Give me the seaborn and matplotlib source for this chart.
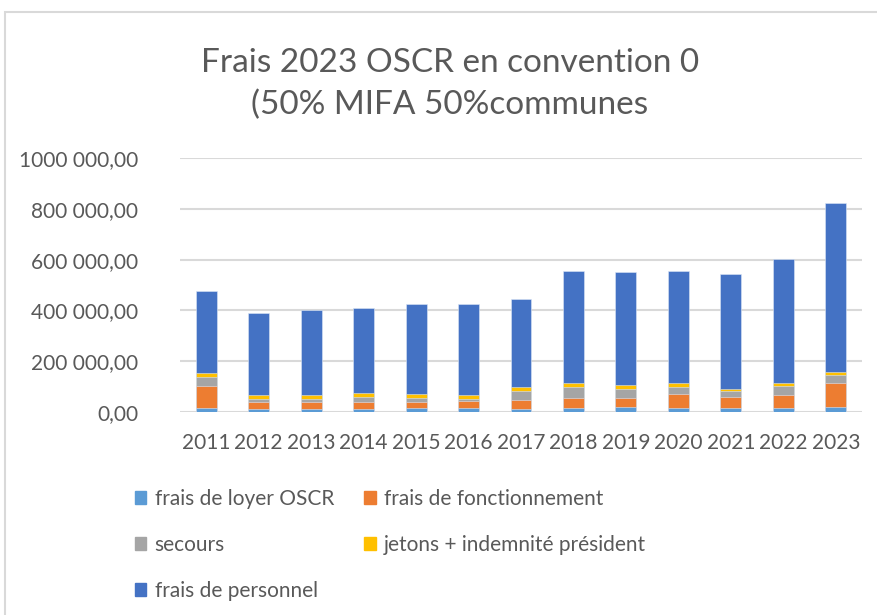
import numpy as np
import pandas as pd
import seaborn as sns
import matplotlib.pyplot as plt
from matplotlib.patches import Patch, Rectangle

# données (en euros)
annees = ['2011', '2012', '2013', '2014', '2015', '2016', '2017',
          '2018', '2019', '2020', '2021', '2022', '2023']
loyer = [16000, 11000, 11000, 11000, 16000, 16000, 11000,
         16000, 20000, 16000, 16000, 16000, 20000]
fonctionnement = [85000, 29000, 29000, 29000, 24000, 29000, 35000,
                  40000, 36000, 55000, 45000, 51000, 93000]
secours = [36000, 11000, 11000, 20000, 16000, 5000, 36000,
           41000, 36000, 27000, 20000, 36000, 31000]
jetons = [16000, 16000, 16000, 16000, 16000, 16000, 16000,
          16000, 16000, 16000, 11000, 11000, 15000]
personnel = [323000, 324000, 334000, 335000, 354000, 360000, 348000,
             444000, 444000, 443000, 451000, 490000, 665000]

series = ['frais de loyer OSCR', 'frais de fonctionnement', 'secours',
          'jetons + indemnité président', 'frais de personnel']
couleurs = ['#5B9BD5', '#ED7D31', '#A5A5A5', '#FFC000', '#4472C4']

yticks = [0, 200000, 400000, 600000, 800000, 1000000]
ytick_labels = ['0,00', '200 000,00', '400 000,00', '600 000,00',
                '800 000,00', '1000 000,00']

df = pd.DataFrame({'annee': annees, series[0]: loyer, series[1]: fonctionnement,
                   series[2]: secours, series[3]: jetons, series[4]: personnel})
cumul = df[series].cumsum(axis=1)
cumul['annee'] = df['annee']

sns.set_style('white')
plt.rcParams['font.family'] = ['Lato', 'DejaVu Sans']
gris = '#595959'

fig = plt.figure(figsize=(8.77, 6.15), dpi=100)
ax = fig.add_axes([180 / 877, 1 - 412 / 615, 682 / 877, 254 / 615])

# barres empilées : on dessine les cumuls du haut vers le bas
for nom, c in zip(series[::-1], couleurs[::-1]):
    sns.barplot(data=cumul, x='annee', y=nom, color=c, width=0.4,
                saturation=1, ax=ax, zorder=3, edgecolor='#dce6f5', linewidth=0.4)

ax.set_ylim(0, 1000000)
ax.set_yticks(yticks)
ax.set_yticklabels(ytick_labels)
ax.set_xlabel('')
ax.set_ylabel('')
ax.grid(axis='y', color='#d9d9d9', linewidth=1.5, zorder=0)
ax.grid(axis='x', visible=False)
for s in ax.spines.values():
    s.set_visible(False)
ax.tick_params(axis='both', length=0, labelsize=15, colors=gris)
ax.tick_params(axis='y', pad=30)
ax.tick_params(axis='x', pad=15)

fig.text(450 / 877, 1 - 84 / 615, 'Frais 2023 OSCR en convention 0\n(50% MIFA 50%communes',
         ha='center', va='center', fontsize=24, color=gris, linespacing=1.45)

handles = [Patch(color=c, label=n) for n, c in zip(series, couleurs)]
ordre = [0, 2, 4, 1, 3]
fig.legend([handles[i] for i in ordre], [series[i] for i in ordre],
           loc='upper left', bbox_to_anchor=(116 / 877, 1 - 470 / 615),
           ncol=2, frameon=False, fontsize=15, labelcolor=gris,
           handlelength=0.55, handleheight=0.55, handletextpad=0.4,
           labelspacing=1.25, columnspacing=1.45)

# cadre du graphique
fig.patches.append(Rectangle((5 / 877, -0.05), 1.0, 1 - 12 / 615 + 0.05,
                             transform=fig.transFigure, fill=False,
                             edgecolor='#d9d9d9', linewidth=1.5))

fig.savefig('out.png', dpi=100)
